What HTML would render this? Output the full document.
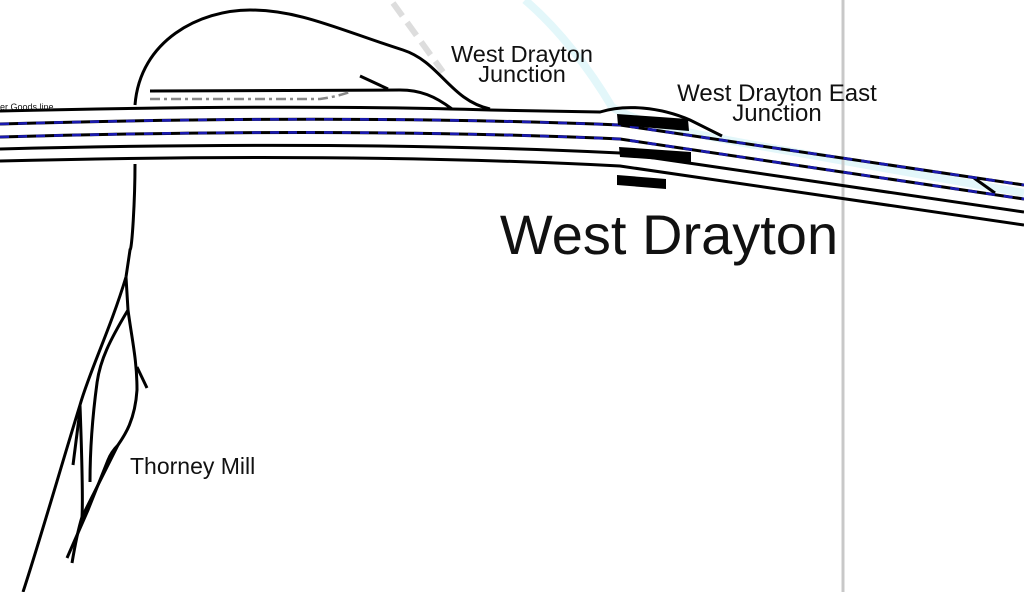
<!DOCTYPE html>
<html><head><meta charset="utf-8"><style>
html,body{margin:0;padding:0;background:#fff;width:1024px;height:592px;overflow:hidden}
svg{display:block}
text{font-family:"Liberation Sans",sans-serif;fill:#111}
</style></head><body>
<svg width="1024" height="592" viewBox="0 0 1024 592" xmlns="http://www.w3.org/2000/svg">
<rect width="1024" height="592" fill="#fff"/>
<path d="M525,0 C560,30 590,70 612,107 C640,125 700,135 760,146 L1024,193" fill="none" stroke="#e3f7fa" stroke-width="8"/>
<line x1="843" y1="0" x2="843" y2="592" stroke="#c8c8c8" stroke-width="3"/>
<path d="M393,3 L443,72" fill="none" stroke="#ddd" stroke-width="6" stroke-dasharray="16,8"/>
<g fill="none" stroke="#000" stroke-width="3" stroke-linecap="butt">
<path d="M0,111 Q300,104 490,110 L600,112 C625,104 660,107 690,120 L722,136"/>
<path d="M0,124 Q350,114 620,125 L1024,185"/>
<path d="M0,137 Q350,127 620,139 L1024,199"/>
<path d="M0,149 Q350,140 620,153 L1024,212"/>
<path d="M0,161 Q350,152 620,166 L1024,225"/>
<path d="M974,178 L995,193"/>
<path d="M135,105 C140,40 200,10 250,10 C300,10 340,30 403,50 C440,62 450,100 490,109"/>
<path d="M150,91 L400,90 C420,90 435,96 452,109"/>
<path d="M360,76 L388,89"/>
<path d="M135,164 C135,200 132,250 130,250 L126,277"/>
<path d="M126,277 C110,330 90,370 80,405 C60,470 40,540 23,592"/>
<path d="M126,277 L128,310 C132,340 137,360 137,390 C135,420 125,435 118,445 C113,450 110,455 108,460 L88,510 L67,558"/>
<path d="M137,367 L147,388"/>
<path d="M128,310 C110,340 100,360 97,383 C92,420 90,450 90,482"/>
<path d="M80,405 C82,460 83,500 82,517 C78,530 75,545 72,563"/>
<path d="M80,410 L73,465"/>
<path d="M118,445 L82,517"/>
</g>
<path d="M150,99 L320,99 Q335,97 350,92" fill="none" stroke="#888" stroke-width="2.5" stroke-dasharray="10,4,3,4"/>
<g fill="none" stroke="#1a1ab0" stroke-width="2.6" stroke-dasharray="9,9">
<path d="M0,124 Q350,114 620,125 L1024,185"/>
<path d="M0,137 Q350,127 620,139 L1024,199"/>
</g>
<polygon points="617,114 688,119 689,131 618,125" fill="#000"/>
<polygon points="619,147 691,152 691,162 620,157" fill="#000"/>
<polygon points="617,175 666,179 666,189 617,185" fill="#000"/>
<text x="0" y="110" font-size="9">er Goods line</text>
<text x="522" y="62" font-size="23.5" text-anchor="middle">West Drayton</text>
<text x="522" y="82" font-size="23.5" text-anchor="middle">Junction</text>
<text x="777" y="101" font-size="24" text-anchor="middle">West Drayton East</text>
<text x="777" y="121" font-size="24" text-anchor="middle">Junction</text>
<text x="669" y="254" font-size="56" text-anchor="middle">West Drayton</text>
<text x="130" y="474" font-size="23">Thorney Mill</text>
</svg>
</body></html>
